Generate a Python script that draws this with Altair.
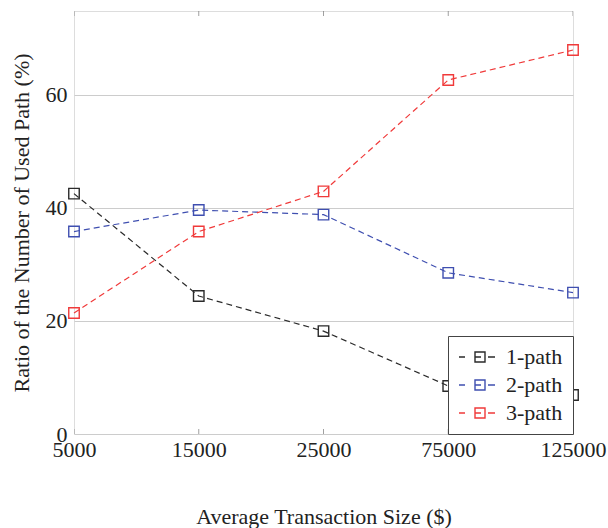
import altair as alt
import pandas as pd

sizes = ["5000", "15000", "25000", "75000", "125000"]
series = ["1-path", "2-path", "3-path"]
one_path = [42.5, 24.4, 18.2, 8.5, 6.9]
two_path = [35.8, 39.6, 38.8, 28.5, 25.0]
three_path = [21.4, 35.8, 42.9, 62.6, 67.9]
colors = ["#2a2a2a", "#3f4fb0", "#f03a3a"]

rows = []
for s, vals in zip(series, [one_path, two_path, three_path]):
    for x, v in zip(sizes, vals):
        rows.append({"size": x, "series": s, "ratio": v})
df = pd.DataFrame(rows)

YMAX = 74.8
FONT = "Liberation Serif"
FS = 22

xscale = alt.Scale(type="point", domain=sizes, padding=0)
xenc = alt.X("size:N", sort=sizes, scale=xscale,
             axis=alt.Axis(title="Average Transaction Size ($)", labelAngle=0,
                           labelAlign="center", labelBaseline="top",
                           labelFontSize=FS, titleFontSize=FS, titleFontWeight="normal",
                           labelFont=FONT, titleFont=FONT, labelColor="#222", titleColor="#222",
                           domain=False, ticks=False, labelPadding=5, titlePadding=46,
                           grid=False))
yenc = alt.Y("ratio:Q", scale=alt.Scale(domain=[0, YMAX], nice=False, zero=True),
             axis=alt.Axis(title="Ratio of the Number of Used Path (%)", values=[0, 20, 40, 60],
                           labelFontSize=FS, titleFontSize=FS, titleFontWeight="normal",
                           labelFont=FONT, titleFont=FONT, labelColor="#222", titleColor="#222",
                           domain=False, ticks=False, labelPadding=7, titlePadding=12,
                           grid=True, gridColor="#cccccc", gridWidth=1))
legend_symbol = ("M-1,0H-0.4"
                 "M0.6,-0.5H1.6V0.5H0.6Z"
                 "M0.6,0H1.2"
                 "M1.9,0H2.6")
color = alt.Color("series:N", scale=alt.Scale(domain=series, range=colors),
                  legend=alt.Legend(title=None, orient="bottom-right", offset=0,
                                    labelFont=FONT, labelFontSize=FS, labelColor="#222",
                                    symbolType=legend_symbol,
                                    symbolSize=400, symbolStrokeWidth=1.4,
                                    symbolFillColor="transparent",
                                    strokeColor="#444", fillColor="white",
                                    padding=10, rowPadding=6, labelOffset=26))

base = alt.Chart(df)
lines = base.mark_line(strokeDash=[6, 4], strokeWidth=1.2).encode(x=xenc, y=yenc, color=color)
points = base.mark_point(shape="square", size=110, filled=False, strokeWidth=1.4, opacity=1).encode(
    x=xenc, y=yenc, color=color)

tick_df = pd.DataFrame({"size": sizes, "lo": [0] * 5, "hi": [YMAX] * 5})
tick_bottom = alt.Chart(tick_df).mark_tick(orient="vertical", size=10, thickness=1, color="#777", clip=True).encode(
    x=alt.X("size:N", sort=sizes, scale=xscale), y=alt.Y("lo:Q"))
tick_top = alt.Chart(tick_df).mark_tick(orient="vertical", size=10, thickness=1, color="#777", clip=True).encode(
    x=alt.X("size:N", sort=sizes, scale=xscale), y=alt.Y("hi:Q"))

chart = alt.layer(tick_bottom, tick_top, lines, points).properties(
    width=499, height=423,
    autosize=alt.AutoSizeParams(type="none"),
    padding={"left": 74, "top": 11, "right": 35, "bottom": 94},
).configure_view(stroke="#444", strokeWidth=1.3).configure(background="white")

chart.save("out.html", embed_options={"renderer": "svg", "actions": False})
